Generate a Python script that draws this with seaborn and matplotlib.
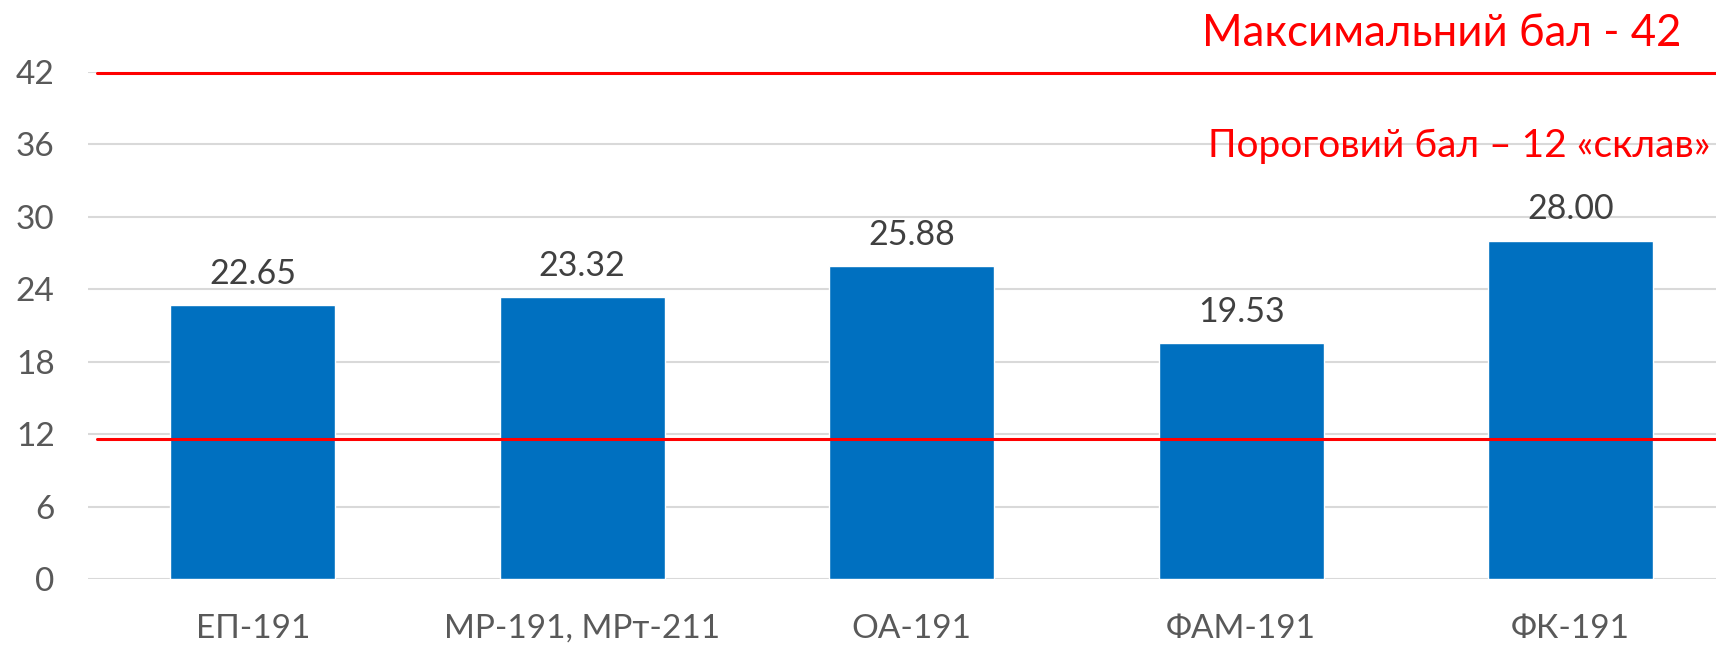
import matplotlib
matplotlib.use("Agg")
import matplotlib.pyplot as plt
import seaborn as sns
import pandas as pd

groups = ['ЕП-191', 'МР-191, МРт-211', 'ОА-191', 'ФАМ-191', 'ФК-191']
scores = [22.65, 23.32, 25.88, 19.53, 28.00]
y_ticks = [0, 6, 12, 18, 24, 30, 36, 42]
max_line = 41.9
threshold_line = 11.6
max_text = 'Максимальний бал - 42'
threshold_text = 'Пороговий бал – 12 «склав»'

if __name__ == '__main__':
    sns.set_theme(style="white")
    plt.rcParams["font.family"] = ["Lato", "Open Sans", "DejaVu Sans"]

    df = pd.DataFrame({'group': groups, 'score': scores})

    fig = plt.figure(figsize=(17.16, 6.46), dpi=100)
    ax = fig.add_axes([0.0513, 0.1033, 0.960, 0.786])

    sns.barplot(data=df, x='group', y='score', color='#0070C0', saturation=1,
                width=0.5, ax=ax, zorder=2)

    ax.set_xlim(-0.5, 4.5)
    ax.set_ylim(0, 42)
    ax.set_yticks(y_ticks)
    ax.yaxis.grid(True, color='#d9d9d9', linewidth=1.5, zorder=0)
    ax.set_axisbelow(True)
    for s in ax.spines.values():
        s.set_visible(False)
    ax.tick_params(axis='y', length=0, pad=24, labelsize=24, labelcolor='#595959')
    ax.tick_params(axis='x', length=0, pad=25, labelsize=24, labelcolor='#595959')
    ax.set(xlabel='', ylabel='')

    ax.bar_label(ax.containers[0], labels=[f'{v:.2f}' for v in scores],
                 padding=11, fontsize=24.5, color='#404040')

    # red reference lines
    ax.axhline(max_line, xmin=0.0055, xmax=1, color='red', linewidth=2.2, zorder=3, clip_on=False)
    ax.axhline(threshold_line, xmin=0.0055, xmax=1, color='red', linewidth=2.2, zorder=3)

    fig.text(1681 / 1716, 1 - 46 / 646, max_text, color='red', fontsize=31.5,
             ha='right', va='baseline')
    fig.text(1710 / 1716, 1 - 157 / 646, threshold_text, color='red', fontsize=28,
             ha='right', va='baseline')

    fig.savefig('out.png', dpi=100)
